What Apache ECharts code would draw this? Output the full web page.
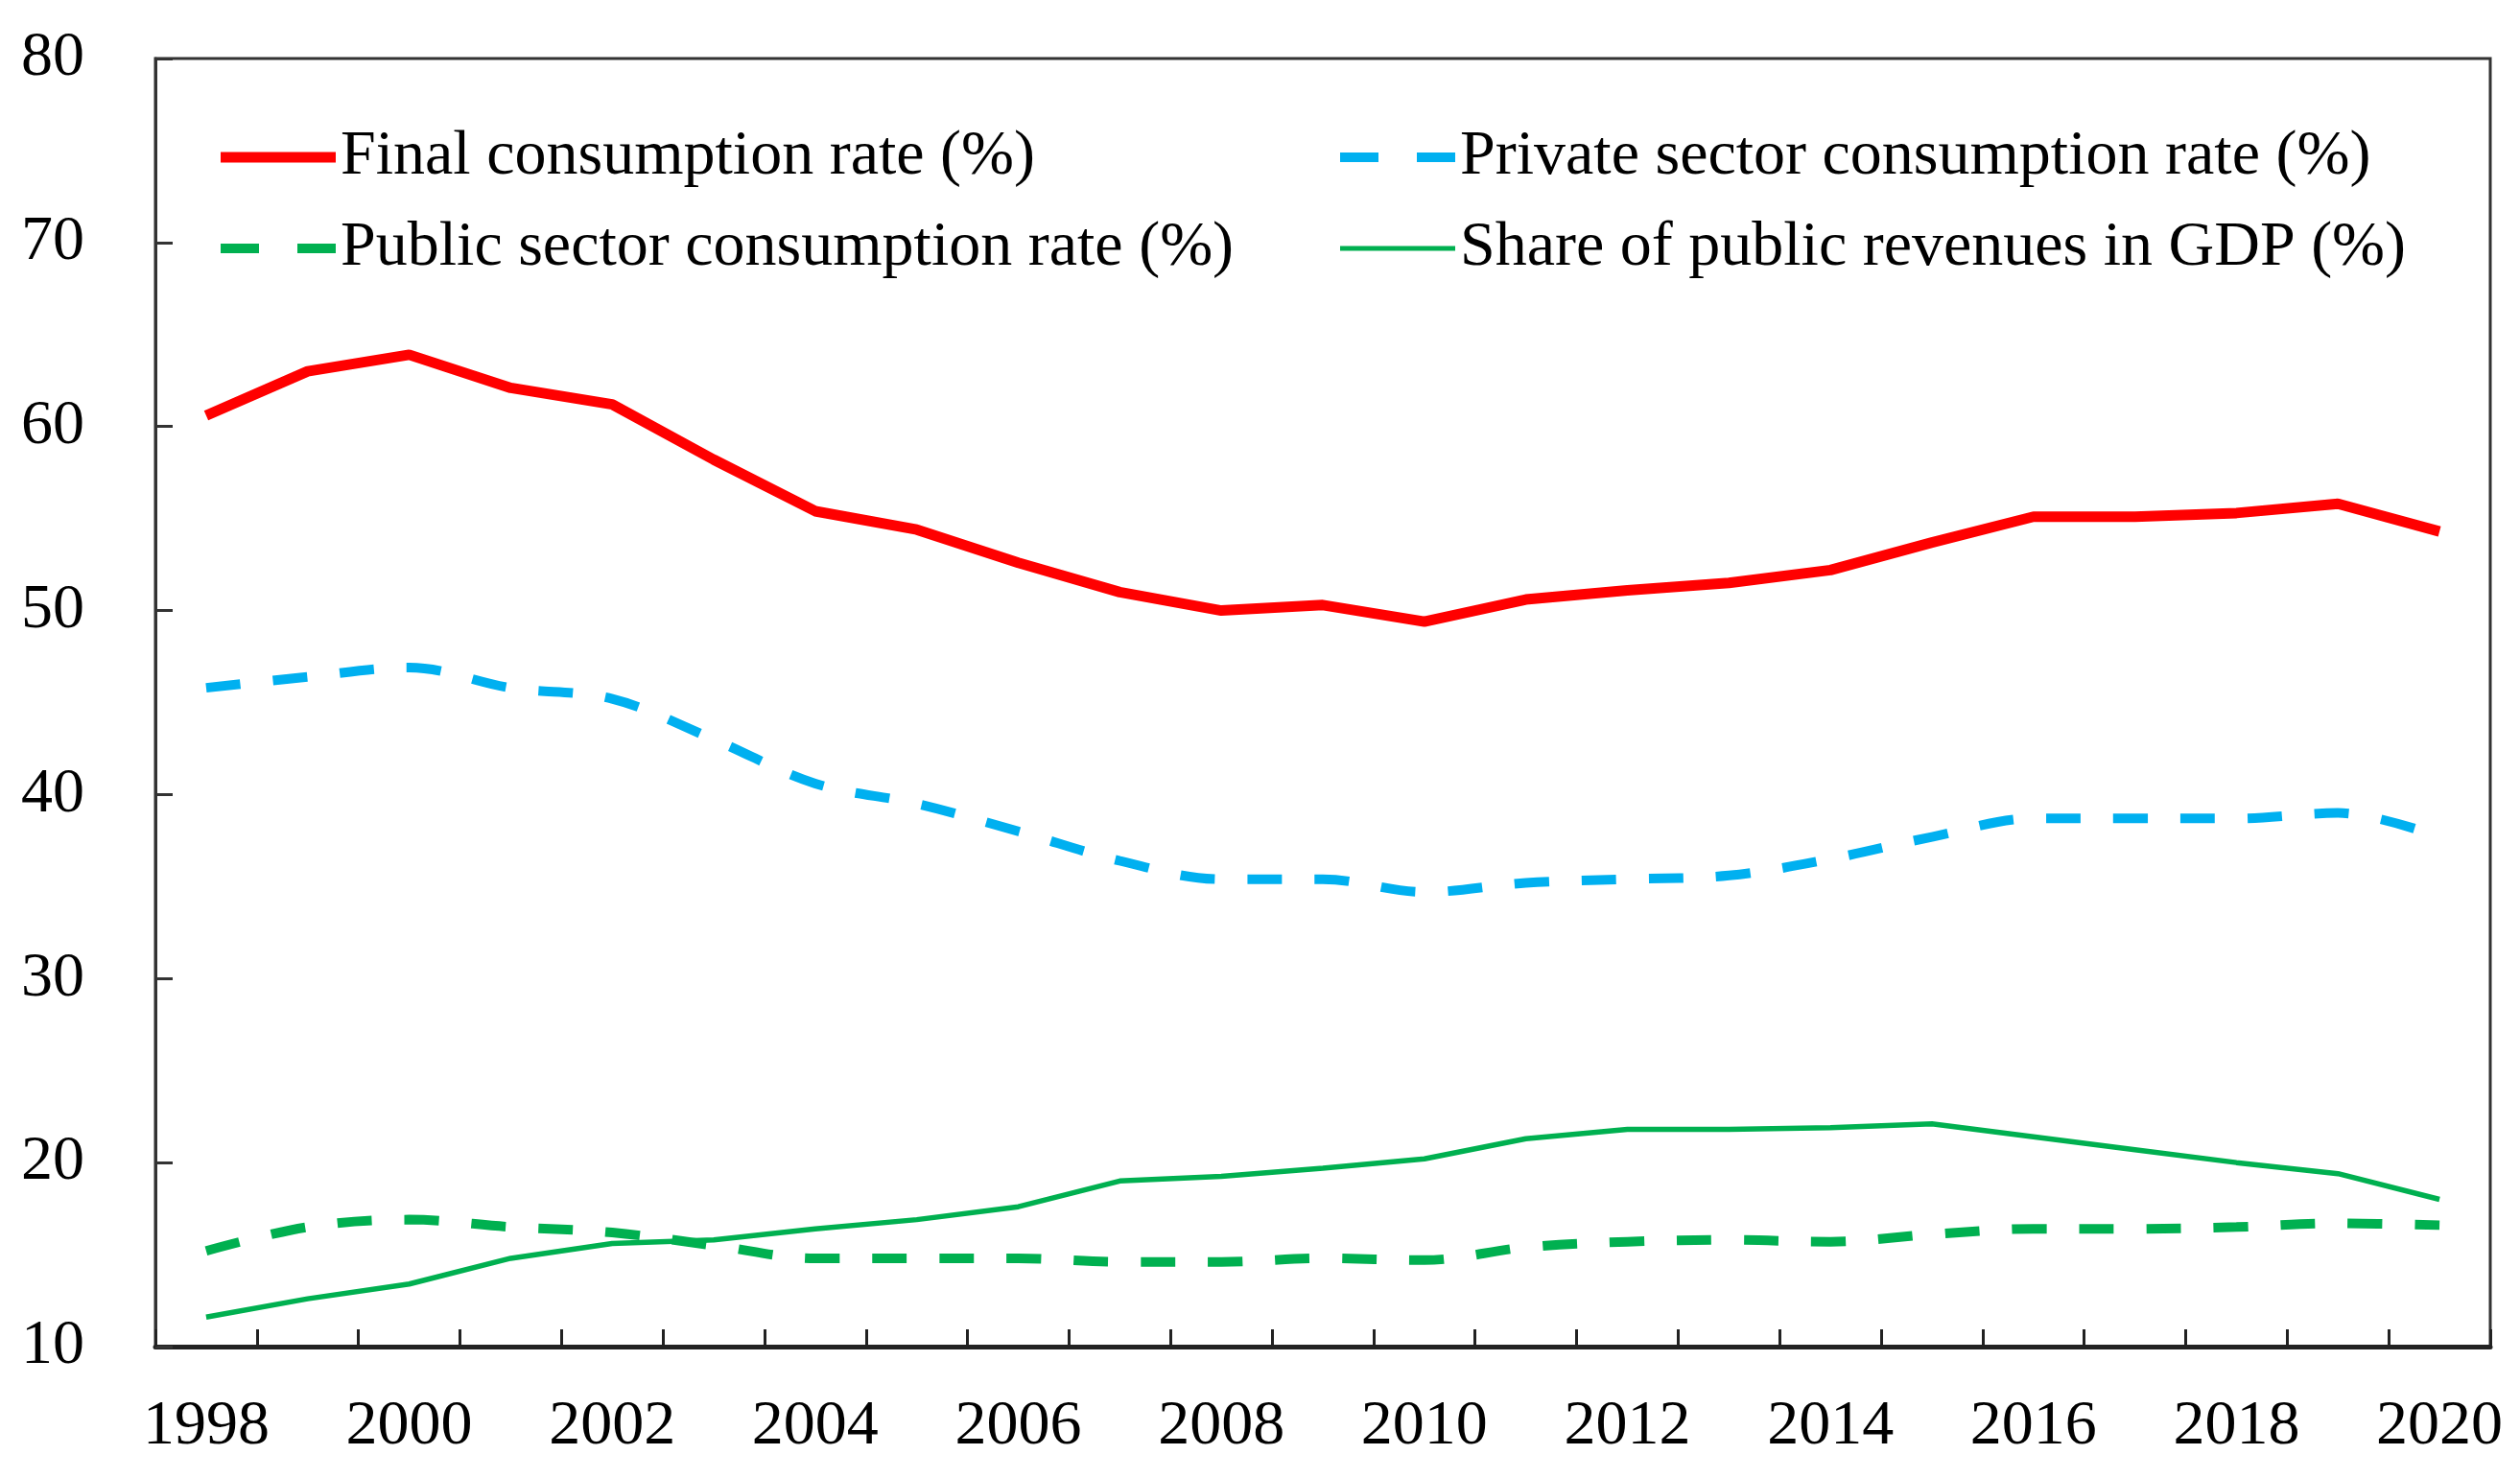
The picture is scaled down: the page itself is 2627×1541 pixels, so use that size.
<!DOCTYPE html>
<html>
<head>
<meta charset="utf-8">
<script src="https://cdn.jsdelivr.net/npm/echarts@6/dist/echarts.min.js"></script>
<style>
html,body{margin:0;padding:0;background:#fff;}
#chart{width:2627px;height:1541px;}
</style>
</head>
<body>
<div id="chart"></div>
<script>
var years = ['1998','1999','2000','2001','2002','2003','2004','2005','2006','2007','2008','2009','2010','2011','2012','2013','2014','2015','2016','2017','2018','2019','2020'];
var finalConsumption = [60.6,63.0,63.9,62.1,61.2,58.2,55.4,54.4,52.6,51.0,50.0,50.3,49.4,50.6,51.1,51.5,52.2,53.7,55.1,55.1,55.3,55.8,54.3];
var privateConsumption = [45.8,46.4,46.9,45.8,45.2,43.0,40.6,39.5,38.0,36.4,35.4,35.4,34.7,35.2,35.4,35.6,36.5,37.7,38.7,38.7,38.7,39.0,37.7];
var publicConsumption = [15.2,16.5,16.9,16.5,16.2,15.5,14.8,14.8,14.8,14.6,14.6,14.8,14.7,15.4,15.7,15.8,15.7,16.1,16.4,16.4,16.5,16.7,16.6];
var publicRevenueShare = [11.6,12.6,13.4,14.8,15.6,15.8,16.4,16.9,17.6,19.0,19.25,19.7,20.2,21.3,21.8,21.8,21.9,22.1,21.4,20.7,20.0,19.4,18.0];
var yTicks = {min:10, max:80, interval:10};

var names = ['Final consumption rate (%)','Private sector consumption rate (%)','Public sector consumption rate (%)','Share of public revenues in GDP (%)'];
var FONT = "'Liberation Serif','Times New Roman',serif";
var RED = '#ff0000', BLUE = '#00b0f0', GREEN = '#00b050';
var chart = echarts.init(document.getElementById('chart'));

var ICON_SOLID = 'rect';
var ICON_DASH = 'path://M0,0H40V10H0Z M80,0H120V10H80Z';

function legendAt(name, left, top, icon, h, color){
  return {
    data:[{name:name, icon:icon, itemStyle:{color:color, borderWidth:0}}],
    left:left, top:top, padding:0, itemWidth:120, itemHeight:h,
    selectedMode:false,
    textStyle:{fontFamily:FONT, fontSize:66, color:'#000'}
  };
}

chart.setOption({
  animation:false,
  backgroundColor:'#fff',
  grid:{left:162, right:31, top:61, bottom:137, show:true, borderColor:'#333', borderWidth:3, containLabel:false},
  legend:[
    legendAt(names[0], 230, 131, ICON_SOLID, 11, RED),
    legendAt(names[1], 1397, 131, ICON_DASH, 10, BLUE),
    legendAt(names[2], 230, 226, ICON_DASH, 10, GREEN),
    legendAt(names[3], 1397, 226, ICON_SOLID, 5, GREEN)
  ],
  xAxis:{
    type:'category', data:years, boundaryGap:true,
    axisLine:{show:true, lineStyle:{color:'#222', width:5}},
    axisTick:{show:true, inside:true, length:18, interval:0, lineStyle:{color:'#222', width:3}},
    axisLabel:{interval:1, margin:51, fontFamily:FONT, fontSize:66, color:'#000'},
    splitLine:{show:false}
  },
  yAxis:{
    type:'value', min:yTicks.min, max:yTicks.max, interval:yTicks.interval,
    axisLine:{show:true, lineStyle:{color:'#333', width:3}},
    axisTick:{show:true, inside:true, length:18, lineStyle:{color:'#333', width:3}},
    axisLabel:{margin:74, fontFamily:FONT, fontSize:66, color:'#000'},
    splitLine:{show:false}
  },
  series:[
    {name:names[0], type:'line', data:finalConsumption, symbol:'none', lineStyle:{color:RED, width:11}, itemStyle:{color:RED}},
    {name:names[1], type:'line', data:privateConsumption, symbol:'none', smooth:0.35, lineStyle:{color:BLUE, width:10, type:[36,34]}, itemStyle:{color:BLUE}},
    {name:names[2], type:'line', data:publicConsumption, symbol:'none', smooth:0.35, lineStyle:{color:GREEN, width:10, type:[36,34]}, itemStyle:{color:GREEN}},
    {name:names[3], type:'line', data:publicRevenueShare, symbol:'none', lineStyle:{color:GREEN, width:5.5}, itemStyle:{color:GREEN}}
  ]
});
</script>
</body>
</html>
